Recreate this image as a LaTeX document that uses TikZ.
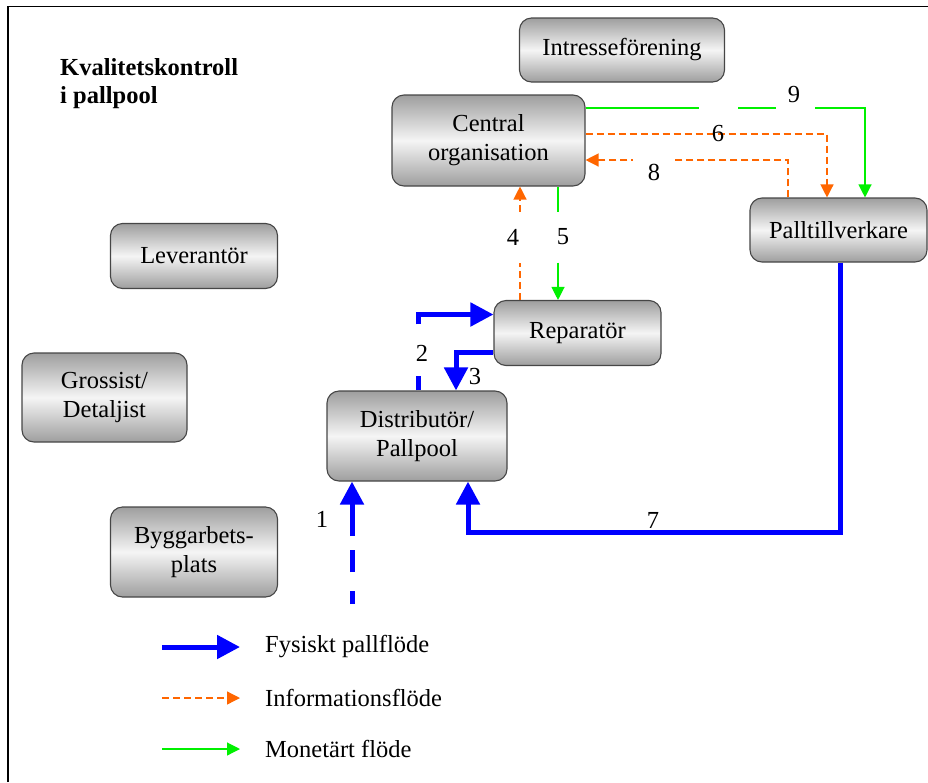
\documentclass[tikz,border=0pt]{standalone}
\usepackage{fontspec}
\setmainfont{Liberation Serif}
\usetikzlibrary{arrows.meta}
\definecolor{flowblue}{RGB}{0,0,255}
\definecolor{floworange}{RGB}{255,102,0}
\definecolor{flowgreen}{RGB}{0,240,0}
\definecolor{boxedge}{RGB}{70,70,70}
\newcommand{\boxfont}{\fontsize{24.5}{29}\selectfont}
\tikzset{
  box/.style={rounded corners=12pt, draw=boxedge, line width=1.1pt,
    top color=black!38, bottom color=black!38, middle color=black!4,
    align=center, inner sep=0pt, font=\boxfont},
  phys/.style={draw=flowblue, line width=5pt,
    -{Triangle[length=23pt,width=23pt]}},
  info/.style={draw=floworange, line width=1.3pt, dash pattern=on 7pt off 4pt,
    -{Triangle[length=13pt,width=13pt]}},
  money/.style={draw=flowgreen, line width=1.2pt,
    -{Triangle[length=13pt,width=13pt]}},
  num/.style={font=\boxfont, inner sep=0pt},
  legendtext/.style={font=\boxfont, anchor=west, inner sep=0pt},
}
\begin{document}
\begin{tikzpicture}[x=1pt,y=-1pt]
\useasboundingbox (0,0) rectangle (928,782);
% frame along the top and left edges
\draw[line width=1.8pt] (8,782) -- (8,6.5) -- (928,6.5);

% title
\node[font=\fontsize{24.5}{28}\selectfont\bfseries, align=left, anchor=north west, inner sep=0pt]
  (title) at (60,58) {Kvalitetskontroll\\i pallpool};

% actors
\node[box, minimum width=205pt, minimum height=64pt] (intresse) at (622,50) {Intresseförening};
\node[box, minimum width=193pt, minimum height=91pt] (central) at (488.5,140.5) {Central\\organisation};
\node[box, minimum width=177pt, minimum height=64pt] (pall) at (838.5,230) {Palltillverkare};
\node[box, minimum width=167pt, minimum height=65pt] (lev) at (194,256) {Leverantör};
\node[box, minimum width=167pt, minimum height=65pt] (repar) at (577.5,333) {Reparatör};
\node[box, minimum width=165pt, minimum height=89pt] (gross) at (104.5,397.5) {Grossist/\\Detaljist};
\node[box, minimum width=180pt, minimum height=90pt] (distrib) at (417,436) {Distributör/\\Pallpool};
\node[box, minimum width=167pt, minimum height=90pt] (bygg) at (194,552) {Byggarbets-\\plats};

% monetary flows
\draw[money, dash pattern=on 113.5pt off 39pt on 38pt off 39pt on 1000pt]
  ([yshift=32.5pt]central.east) -| ([xshift=26.5pt]pall.north);
\coordinate (m5) at ([xshift=-19.5pt]repar.north);
\draw[money, dash pattern=on 25pt off 51pt on 1000pt] (m5 |- central.south) -- (m5);

% information flows
\draw[info] ([yshift=6.5pt]central.east) -| ([xshift=-11.5pt]pall.north);
\draw[info] ([xshift=-50.5pt]pall.north) |- ([yshift=-19.5pt]central.east);
\coordinate (i4) at ([xshift=-57.5pt]repar.north);
\draw[info] (i4) -- (i4 |- central.south);

% physical pallet flows
\coordinate (src1) at (352,604);
\draw[phys, dash pattern=on 13pt off 19pt on 22pt off 14pt on 1000pt]
  (src1) -- (src1 |- distrib.south);
\draw[phys, dash pattern=on 14pt off 52pt on 1000pt]
  ([xshift=1pt]distrib.north) |- ([yshift=18.5pt]repar.west);
\draw[phys] ([yshift=-19.5pt]repar.west) -| ([xshift=39pt]distrib.north);
\coordinate (low7) at (653,532);
\draw[phys] ([xshift=1.5pt]pall.south) |- (low7) -| ([xshift=51pt]distrib.south);

% flow numbers
\node[num] (n1) at (322,519) {1};
\node[num] (n2) at (422,353) {2};
\node[num] (n3) at (475,377) {3};
\node[num, fill=white, anchor=base, text height=34pt, text depth=17pt, minimum width=22pt] (n4) at (513,245.5) {4};
\node[num] (n5) at (563,237) {5};
\node[num] (n6) at (718,134) {6};
\node[num] (n7) at (653,520) {7};
\node[num, fill=white, anchor=base, text height=26pt, text depth=2pt, minimum width=42pt] (n8) at (654,180.5) {8};
\node[num] (n9) at (794,95) {9};

% legend
\coordinate (lp1) at (162,647);  \coordinate (lp2) at (240,647);
\coordinate (li1) at (162,698);  \coordinate (li2) at (240,698);
\coordinate (lm1) at (162,749);  \coordinate (lm2) at (240,749);
\draw[phys] (lp1) -- (lp2);
\draw[info] (li1) -- (li2);
\draw[money] (lm1) -- (lm2);
\node[legendtext] (tp) at (265,647) {Fysiskt pallflöde};
\node[legendtext] (ti) at (265,698) {Informationsflöde};
\node[legendtext] (tm) at (265,749) {Monetärt flöde};
\end{tikzpicture}
\end{document}
